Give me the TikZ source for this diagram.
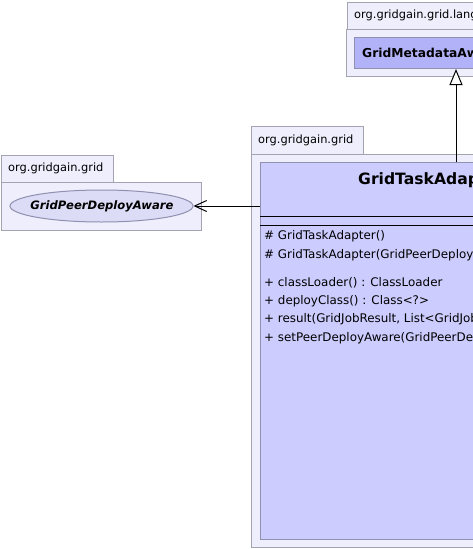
\documentclass[tikz,border=0pt]{standalone}
\usepackage{fontspec}
\setmainfont{DejaVu Sans}
\usepackage{tikz}
\usetikzlibrary{arrows.meta,shapes.geometric}
\definecolor{pkgfill}{HTML}{EEEEFC}
\definecolor{pkgline}{HTML}{A4A4B0}
\definecolor{clsfill}{HTML}{CCCCFF}
\definecolor{clsline}{HTML}{9090B0}
\definecolor{ifcfill}{HTML}{B2B2F8}
\definecolor{ovalfill}{HTML}{DCDCF6}
\tikzset{
	pkg/.style={draw=pkgline, fill=pkgfill, line width=1pt, rectangle, inner sep=0pt, anchor=north west},
	cls/.style={draw=clsline, fill=clsfill, line width=1pt, rectangle, inner sep=0pt, anchor=north west},
	ifc/.style={draw=clsline, fill=ifcfill, line width=1pt, rectangle, inner sep=0pt, anchor=north west},
	oval/.style={draw=clsline, fill=ovalfill, line width=1pt, ellipse, inner sep=0pt},
	pkglabel/.style={anchor=west, inner sep=0pt, font=\fontsize{11.4}{13}\selectfont},
	member/.style={anchor=west, inner sep=0pt, font=\fontsize{11.9}{14}\selectfont},
	depend/.style={draw=black, line width=1pt, -{Straight Barb[length=12pt,width=11pt]}},
	inherit/.style={draw=black, line width=1pt, -{Triangle[open,length=16pt,width=13pt,fill=white]}}
}

\begin{document}
\begin{tikzpicture}[x=1pt,y=-1pt]
			\useasboundingbox (0,0) rectangle (473,549);
			\clip (0,0) rectangle (473,549);
			%%%%% PACKAGE org.gridgain.grid.lang %%%%%
			\node[pkg, minimum width=180, minimum height=27] (langtab) at (347,2) {};
			\node[pkg, minimum width=260, minimum height=47] (langpkg) at (346,29) {};
			\node[pkglabel] (langname) at (354,15.5) {org.gridgain.grid.lang};
			\node[ifc, minimum width=240, minimum height=31] (meta) at (354,37) {};
			\node[anchor=west, inner sep=0pt, font=\bfseries\fontsize{12.3}{14}\selectfont] (metaname) at (362,52.5) {GridMetadataAware};
			
			%%%%% PACKAGE org.gridgain.grid (left) %%%%%
			\node[pkg, minimum width=112, minimum height=27] (lefttab) at (1,155) {};
			\node[pkg, minimum width=200, minimum height=48] (leftpkg) at (1,182) {};
			\node[pkglabel] (leftname) at (8,168.5) {org.gridgain.grid};
			\node[oval, minimum width=183, minimum height=32] (peer) at (101.5,206) {};
			\node[inner sep=0pt, font=\bfseries\itshape\fontsize{11.6}{13}\selectfont] (peername) at (102,206) {GridPeerDeployAware};
			
			%%%%% PACKAGE org.gridgain.grid (right) %%%%%
			\node[pkg, minimum width=112, minimum height=28] (righttab) at (251,126) {};
			\node[pkg, minimum width=260, minimum height=393] (rightpkg) at (251,154) {};
			\node[pkglabel] (rightname) at (258,140) {org.gridgain.grid};
			\node[cls, minimum width=240, minimum height=377] (adapter) at (260,162) {};
			\node[anchor=west, inner sep=0pt, font=\bfseries\fontsize{15.6}{18}\selectfont] (adaptername) at (358,180) {GridTaskAdapter};
			\draw[line width=1pt] (adapter.west |- 0,216) -- (adapter.east |- 0,216);
			\draw[line width=1pt] (adapter.west |- 0,225) -- (adapter.east |- 0,225);
			
			\node[member] (m1) at (264,236.5) {\# GridTaskAdapter()};
			\node[member] (m2) at (264,255) {\# GridTaskAdapter(GridPeerDeployAware)};
			\node[member] (m3) at (264,283) {+ classLoader() : ClassLoader};
			\node[member] (m4) at (264,301) {+ deployClass() : Class<?>};
			\node[member] (m5) at (264,319.5) {+ result(GridJobResult, List<GridJobResult>)};
			\node[member] (m6) at (264,338) {+ setPeerDeployAware(GridPeerDeployAware)};
			
			%%%%% CONNECTORS %%%%%
			\draw[depend] (adapter.west |- peer) -- (peer.east);
			\draw[inherit] ([xshift=196pt]adapter.north west) -- ([xshift=102pt]meta.south west);
			%%%%% END %%%%%
		\end{tikzpicture}
\end{document}
